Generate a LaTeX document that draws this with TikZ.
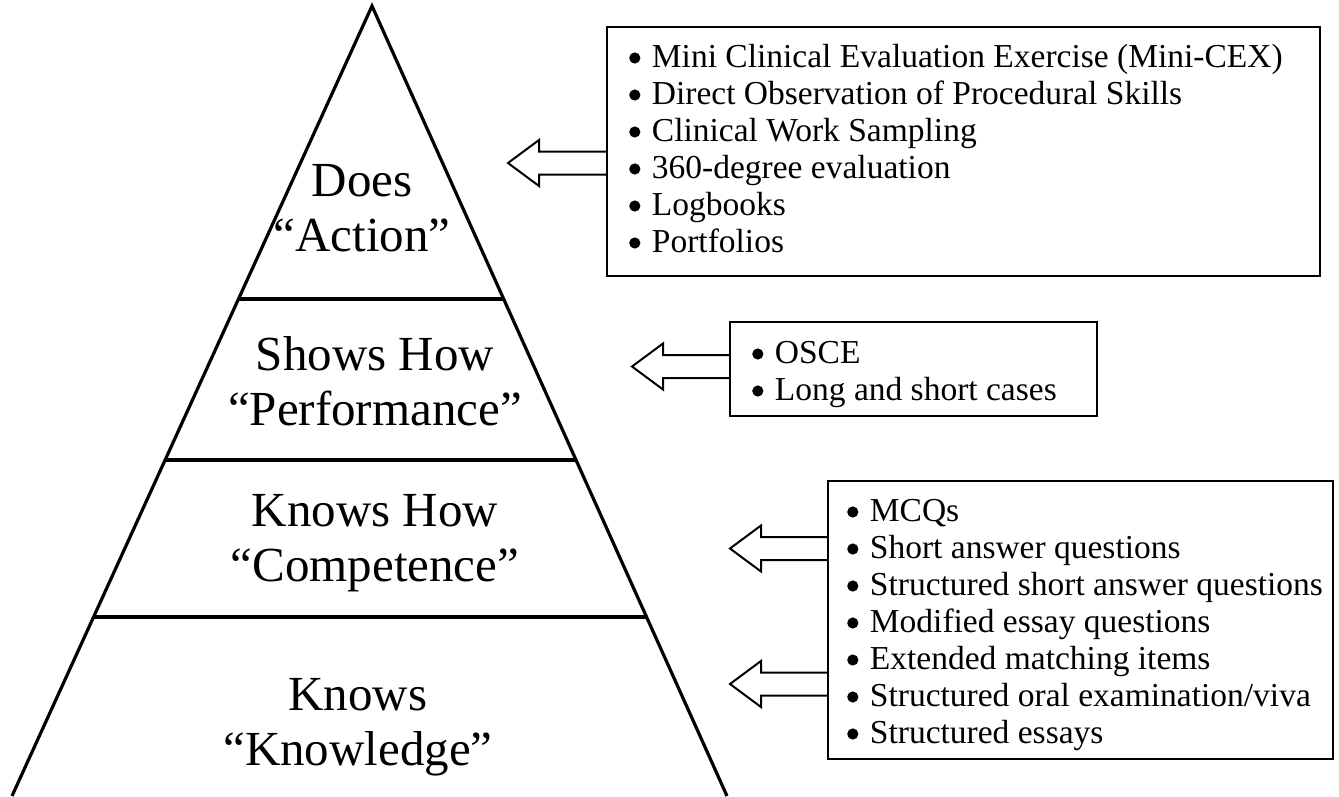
\documentclass[tikz,border=0pt]{standalone}
\usepackage{fontspec}
\setmainfont{Liberation Serif}
\usetikzlibrary{calc}
\newcommand\bul{\tikz[baseline=-9pt,x=1pt,y=1pt]\path[fill=black,draw=none] (0,0) circle (5.6pt);\hspace{11.5pt}}
\tikzset{
  pyr/.style={line width=3.2pt, line join=miter},
  lvl/.style={font=\fontsize{49}{55}\selectfont, align=center, inner sep=0pt},
  listbox/.style={draw, line width=2pt, inner sep=0pt},
  listtext/.style={font=\fontsize{33.5}{37}\selectfont, align=left, inner sep=0pt, anchor=base west},
  harrow/.style={draw, line width=2pt, line join=miter}
}
\begin{document}
\begin{tikzpicture}[x=1pt,y=-1pt]
\useasboundingbox (0,0) rectangle (1339,796);
% pyramid
\coordinate (apex) at (372,6);
\coordinate (bl) at (12,796);
\coordinate (br) at (727,796);
\draw[pyr] (bl) -- (apex) -- (br);
\coordinate (l1) at ($(apex)!{(299-6)/790}!(bl)$);
\coordinate (r1) at ($(apex)!{(299-6)/790}!(br)$);
\coordinate (l2) at ($(apex)!{(460-6)/790}!(bl)$);
\coordinate (r2) at ($(apex)!{(460-6)/790}!(br)$);
\coordinate (l3) at ($(apex)!{(617-6)/790}!(bl)$);
\coordinate (r3) at ($(apex)!{(617-6)/790}!(br)$);
\draw[pyr] (l1) -- (r1);
\draw[pyr] (l2) -- (r2);
\draw[pyr] (l3) -- (r3);
% level labels
\node[lvl] (does) at (362,208) {Does\\``Action''};
\node[lvl] (shows) at (375,381) {Shows How\\``Performance''};
\node[lvl] (knowshow) at (375,543) {Knows How\\``Competence''};
\node[lvl] (knows) at (358,727) {Knows\\``Knowledge''};
% boxes
\node[listbox, minimum width=713pt, minimum height=249pt] (b1) at (963.5,151.5) {};
\node[listtext] (t1) at (629,252) {\bul Mini Clinical Evaluation Exercise (Mini-CEX)\\\bul Direct Observation of Procedural Skills\\\bul Clinical Work Sampling\\\bul 360-degree evaluation\\\bul Logbooks\\\bul Portfolios};
\node[listbox, minimum width=367pt, minimum height=94pt] (b2) at (913.5,369) {};
\node[listtext] (t2) at (752,400) {\bul OSCE\\\bul Long and short cases};
\node[listbox, minimum width=505pt, minimum height=278pt] (b3) at (1080.5,620) {};
\node[listtext] (t3) at (847,743) {\bul MCQs\\\bul Short answer questions\\\bul Structured short answer questions\\\bul Modified essay questions\\\bul Extended matching items\\\bul Structured oral examination/viva\\\bul Structured essays};
% arrows
\coordinate (a1) at (508,163);
\coordinate (a2) at (632,366.5);
\coordinate (a3) at (730,548.5);
\coordinate (a4) at (730,684);
\coordinate (a1s) at (b1.west |- a1);
\coordinate (a2s) at (b2.west |- a2);
\coordinate (a3s) at (b3.west |- a3);
\coordinate (a4s) at (b3.west |- a4);
\foreach \t/\s in {a1/a1s,a2/a2s,a3/a3s,a4/a4s}{
  \draw[harrow] ([yshift=11.5pt]\s) -- ([xshift=31pt,yshift=11.5pt]\t) -- ([xshift=31pt,yshift=23pt]\t) -- (\t) -- ([xshift=31pt,yshift=-23pt]\t) -- ([xshift=31pt,yshift=-11.5pt]\t) -- ([yshift=-11.5pt]\s);
}
\end{tikzpicture}
\end{document}
